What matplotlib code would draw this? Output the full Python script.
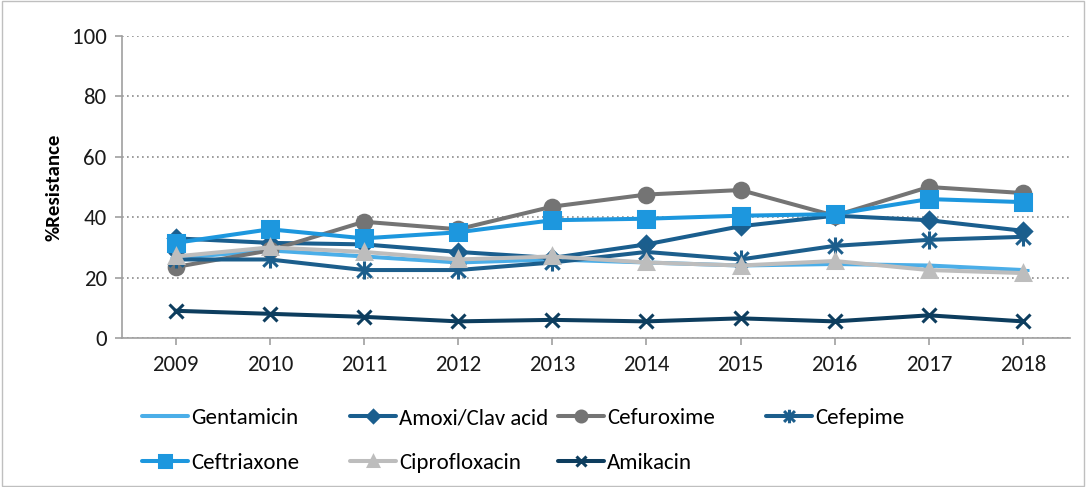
import matplotlib
matplotlib.use("Agg")
import matplotlib.pyplot as plt
from matplotlib import font_manager
from matplotlib.path import Path
from matplotlib.patches import Rectangle

installed = {f.name for f in font_manager.fontManager.ttflist}
base_font = 'Carlito' if 'Carlito' in installed else 'Lato'
plt.rcParams['font.family'] = [base_font, 'DejaVu Sans']
fs = 16.5

years = ['2009', '2010', '2011', '2012', '2013', '2014', '2015', '2016', '2017', '2018']

gentamicin = [26.5, 29, 27, 25, 26, 25, 24, 24.5, 24, 22.5]
amoxi_clav = [33, 31.5, 31, 28.5, 26.5, 31, 37, 40.5, 39, 35.5]
cefuroxime = [23.5, 29, 38.5, 36, 43.5, 47.5, 49, 40.5, 50, 48]
cefepime = [26, 26, 22.5, 22.5, 25, 28.5, 26, 30.5, 32.5, 33.5]
ceftriaxone = [31.5, 36, 33, 35, 39, 39.5, 40.5, 41, 46, 45]
ciprofloxacin = [27, 30, 28.5, 26, 27, 25, 24, 25.5, 22.5, 21.5]
amikacin = [9, 8, 7, 5.5, 6, 5.5, 6.5, 5.5, 7.5, 5.5]

# star marker: vertical bar crossed by an x
star = Path([(0, -1), (0, 1), (-0.8, -0.8), (0.8, 0.8), (-0.8, 0.8), (0.8, -0.8)],
            [Path.MOVETO, Path.LINETO] * 3)

fig = plt.figure(figsize=(10.86, 4.87), dpi=100)
ax = fig.add_axes([0.1123, 0.306, 0.873, 0.62])

x = list(range(len(years)))
lw = 2.9
series = [
    ('Gentamicin', gentamicin, '#4BAEE8', '_', 9),
    ('Amoxi/Clav acid', amoxi_clav, '#1A5E8E', 'D', 8),
    ('Cefuroxime', cefuroxime, '#747474', 'o', 10.5),
    ('Cefepime', cefepime, '#1C5E8C', star, 13),
    ('Ceftriaxone', ceftriaxone, '#1D97DE', 's', 11),
    ('Ciprofloxacin', ciprofloxacin, '#BDBDBD', '^', 10),
    ('Amikacin', amikacin, '#0D3D5E', 'x', 10),
]
handles = {}
for name, vals, col, mk, ms in series:
    ln, = ax.plot(x, vals, color=col, lw=lw, marker=mk, markersize=ms,
                  markerfacecolor=col, markeredgecolor=col, markeredgewidth=2.2,
                  label=name, solid_capstyle='round')
    handles[name] = ln

ax.set_xlim(-0.57, 9.5)
ax.set_ylim(0, 100)
ax.set_yticks(range(0, 101, 20))
ax.set_xticks(x)
ax.set_xticklabels(years)
ax.grid(axis='y', linestyle=(0, (1, 2)), color='#8C8C8C', lw=1.2)
ax.set_axisbelow(True)
for s in ['top', 'right']:
    ax.spines[s].set_visible(False)
for s in ['left', 'bottom']:
    ax.spines[s].set_color('#A0A0A0')
    ax.spines[s].set_linewidth(1.2)
ax.tick_params(axis='both', colors='#A0A0A0', labelcolor='#1A1A1A', labelsize=fs,
               length=5, width=1.2)
ax.tick_params(axis='y', pad=6)
ax.tick_params(axis='x', pad=7)
ax.set_ylabel('%Resistance', fontsize=15, fontweight='bold', labelpad=6.5)

# legend laid out in fixed-width columns of two rows
cols = [['Gentamicin', 'Ceftriaxone'], ['Amoxi/Clav acid', 'Ciprofloxacin'],
        ['Cefuroxime', 'Amikacin'], ['Cefepime']]
for i, names in enumerate(cols):
    fig.legend([handles[n] for n in names], names,
               loc='upper left', bbox_to_anchor=(0.1308 + i * 0.1915, 0.162),
               frameon=False, fontsize=fs, handlelength=2.0, handletextpad=0.15,
               labelspacing=1.1, borderpad=0, borderaxespad=0, markerscale=0.75)

fig.patches.append(Rectangle((0.002, 0.002), 0.996, 0.996, transform=fig.transFigure,
                             fill=False, edgecolor='#BFBFBF', lw=1))

fig.savefig('out.png', dpi=100)
